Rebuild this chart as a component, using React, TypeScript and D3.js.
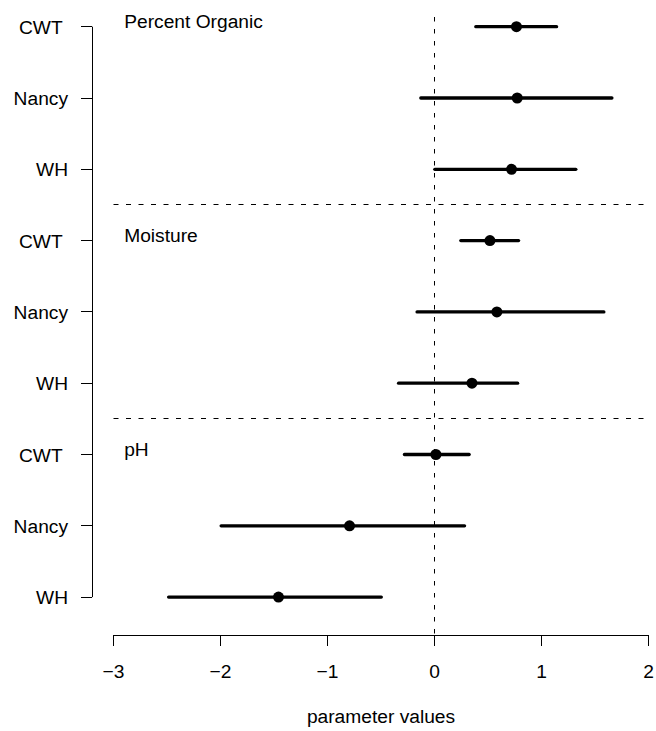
import React from "react";
import * as d3 from "d3";

const groups = ["Percent Organic", "Moisture", "pH"];
const sites = ["CWT\u00A0", "Nancy", "WH"];
const estimates = [0.766, 0.773, 0.72, 0.518, 0.583, 0.35, 0.013, -0.794, -1.458];
const lows = [0.386, -0.128, 0.003, 0.246, -0.163, -0.336, -0.281, -1.994, -2.485];
const highs = [1.141, 1.658, 1.321, 0.786, 1.583, 0.777, 0.324, 0.281, -0.497];
const xTicks = [-3, -2, -1, 0, 1, 2];
const xTitle = "parameter values";

const W = 656;
const H = 731;
const FONT = "'Liberation Sans', Arial, Helvetica, sans-serif";
const FS = 19.2;

const px = (v: number) => Math.floor(v) + 0.5;

export default function App() {
  const x = d3.scaleLinear().domain([-3, 2]).range([113.5, 648.5]);
  const y = d3.scaleLinear().domain([0, 8]).range([26.7, 597.1]);
  const axisY = 635;
  const axisX = 92;
  const tick = 11;
  const rows = estimates.map((e, i) => ({
    i,
    e,
    lo: lows[i],
    hi: highs[i],
    label: sites[i % sites.length],
  }));
  const dash = "5,7.5";

  return (
    <svg
      width={W}
      height={H}
      style={{ position: "absolute", left: 0, top: 0, background: "#fff" }}
      fontFamily={FONT}
      fontSize={FS}
    >
      {/* vertical reference line at 0 */}
      <line
        x1={px(x(0))}
        x2={px(x(0))}
        y1={17}
        y2={axisY}
        stroke="#000"
        strokeWidth={1}
        strokeDasharray="4.5,7.5"
      />
      {/* group separators */}
      {[2.5, 5.5].map((r) => (
        <line
          key={r}
          x1={x(-3)}
          x2={x(2)}
          y1={px(y(r))}
          y2={px(y(r))}
          stroke="#000"
          strokeWidth={1}
          strokeDasharray={dash}
        />
      ))}
      {/* group labels */}
      {groups.map((g, gi) => (
        <text key={g} x={x(-2.9)} y={y(gi * 3) + 1} fill="#000">
          {g}
        </text>
      ))}
      {/* intervals */}
      {rows.map((r) => (
        <g key={r.i}>
          <line
            x1={x(r.lo)}
            x2={x(r.hi)}
            y1={y(r.i)}
            y2={y(r.i)}
            stroke="#000"
            strokeWidth={3.3}
            strokeLinecap="round"
          />
          <circle cx={x(r.e)} cy={y(r.i)} r={5.5} fill="#000" />
        </g>
      ))}
      {/* y axis */}
      <line x1={px(axisX)} x2={px(axisX)} y1={y(0)} y2={y(8)} stroke="#000" strokeWidth={1} />
      {rows.map((r) => (
        <g key={"yt" + r.i}>
          <line
            x1={axisX - tick}
            x2={axisX}
            y1={px(y(r.i))}
            y2={px(y(r.i))}
            stroke="#000"
            strokeWidth={1}
          />
          <text
            x={68}
            y={y(r.i) + 7}
            textAnchor="end"
            fill="#000"
            style={{ whiteSpace: "pre" }}
          >
            {r.label}
          </text>
        </g>
      ))}
      {/* x axis */}
      <line x1={x(-3)} x2={x(2)} y1={px(axisY)} y2={px(axisY)} stroke="#000" strokeWidth={1} />
      {xTicks.map((t) => (
        <g key={"xt" + t}>
          <line
            x1={px(x(t))}
            x2={px(x(t))}
            y1={axisY}
            y2={axisY + tick}
            stroke="#000"
            strokeWidth={1}
          />
          <text x={x(t)} y={677.5} textAnchor="middle" fill="#000">
            {t < 0 ? "\u2212" + Math.abs(t) : String(t)}
          </text>
        </g>
      ))}
      <text x={(x(-3) + x(2)) / 2} y={723} textAnchor="middle" fill="#000">
        {xTitle}
      </text>
    </svg>
  );
}
